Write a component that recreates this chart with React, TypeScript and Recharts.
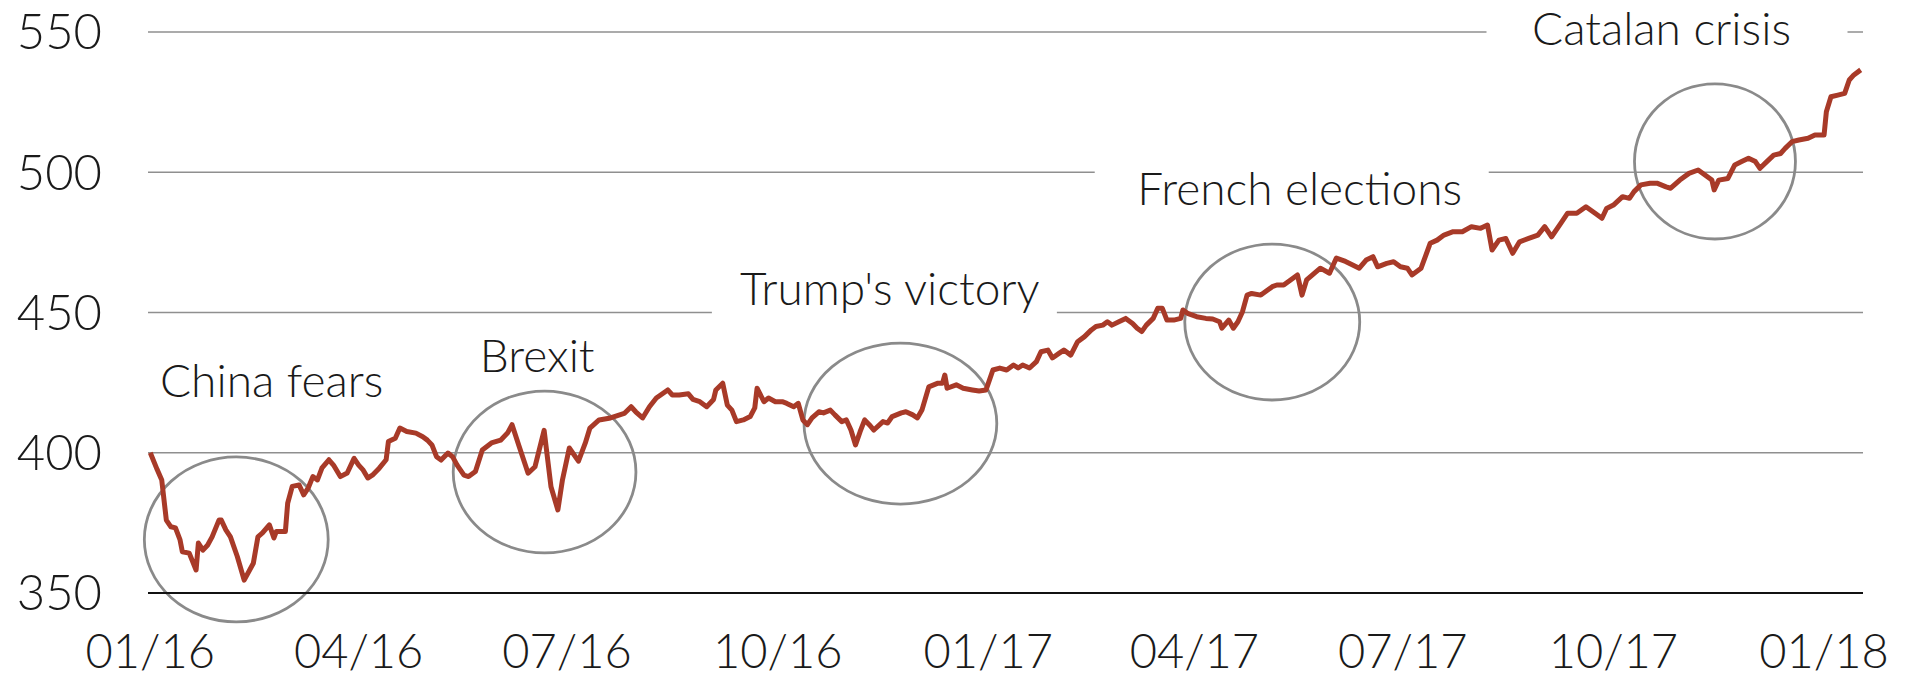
import React from 'react';
import { LineChart, Line, XAxis, YAxis, CartesianGrid, ReferenceArea, ReferenceDot } from 'recharts';

// Days since 01/01/2016
const days = [
  0, 3, 5, 7, 9, 11, 13, 14, 17, 20, 21, 23, 25, 27, 30, 31, 33, 35, 38, 41, 45, 47, 49, 52, 54, 55, 59, 60, 62, 65,
  67, 69, 71, 73, 75, 78, 80, 83, 86, 89, 91, 93, 95, 97, 100, 103, 104, 107, 109, 112, 116, 119, 121, 123, 125, 127,
  130, 132, 134, 137, 139, 142, 145, 149, 153, 156, 158, 161, 165, 168, 172, 175, 178, 180, 183, 187, 190, 192, 196,
  201, 207, 210, 212, 215, 218, 221, 226, 228, 231, 235, 237, 240, 243, 246, 247, 250, 252, 254, 256, 259, 262, 264,
  265, 268, 270, 273, 276, 278, 281, 283, 285, 287, 289, 292, 294, 297, 299, 302, 304, 306, 308, 310, 312, 314, 316,
  320, 322, 324, 328, 330, 333, 335, 337, 340, 344, 346, 347, 348, 352, 355, 359, 362, 365, 368, 371, 374, 377, 379,
  381, 384, 387, 389, 392, 394, 397, 399, 402, 405, 408, 411, 413, 416, 418, 420, 423, 426, 429, 431, 433, 435, 438,
  440, 442, 444, 447, 450, 451, 453, 457, 461, 464, 467, 468, 471, 473, 475, 477, 479, 481, 485, 488, 490, 492, 495,
  498, 501, 503, 505, 511, 515, 518, 522, 528, 531, 534, 536, 540, 543, 546, 549, 551, 555, 559, 562, 565, 569, 573,
  577, 581, 584, 586, 589, 592, 595, 598, 602, 606, 609, 612, 616, 619, 623, 627, 631, 634, 636, 639, 643, 646, 648,
  651, 655, 658, 662, 664, 668, 672, 676, 679, 682, 683, 685, 689, 692, 695, 698, 701, 703, 706, 709, 712, 714, 717,
  720, 724, 727, 731, 732, 734, 737, 740, 742, 744, 747,
];

const values = [
  400, 394, 390.3, 376, 373.6, 373.2, 368.9, 364.7, 364.2, 358.2, 367.8, 365.3, 367, 370, 376, 376, 372.5, 370, 363,
  354.6, 360.6, 370, 371.4, 374.3, 369.6, 371.9, 371.9, 382, 388, 388.5,
  385, 387.5, 391.5, 390.3, 394.6, 397.5, 395.6, 391.5, 392.8, 398, 395.6, 393.8, 391, 392, 394.5, 397.5, 404, 405.2,
  408.8, 407.6, 407, 405.7, 404.5, 402.8, 398.6, 397.4,
  399.9, 398.6, 395.6, 392, 391.5, 393.3, 401, 403.5, 404.5, 407, 410, 402.5, 392.7, 395, 408, 387.9, 379.6, 390.3,
  401.7, 397, 403.5, 408.8, 411.7,
  412.4, 414, 416.4, 414.6, 412.4, 416.4, 419.5, 422.4, 420.6, 420.6, 421, 419, 418.2, 416.4, 419, 422.4, 424.8, 417,
  415.2, 411.1, 411.7, 412.9, 416,
  423, 418.2, 419.5, 418.2, 418.2, 417.6, 416.4, 417.6, 411.7, 410, 412.4, 414.6, 414.2, 415.2, 413.5, 411.1, 411.7,
  408.1, 402.8, 407.5, 411.7, 410, 408.1,
  411.1, 410.6, 412.9, 414.2, 414.6, 413.5, 412.4, 415.2, 423.5, 424.8, 424.8, 427.7, 423, 424.2, 423, 422.4, 422,
  422.4, 429.5, 430.2, 429.5, 431.3, 430.2,
  431.3, 430.2, 432.5, 436, 436.6, 433.8, 435.5, 436.6, 434.8, 439.6, 441.4, 443.8, 445, 445.5, 446.7, 445.5, 446.7,
  447.9, 446.1, 444.4, 443.2, 445.5, 447.9,
  451.5, 451.5, 447.3, 447.3, 447.9, 450.9, 449.7, 448.5, 447.9, 447.7, 446.7, 444.4, 447.3, 444.4, 446.7, 450.3,
  456.2, 456.8, 456.2, 458, 459.2, 459.8, 459.8,
  461.6, 463.4, 456.2, 461.6, 465.8, 464, 469.4, 468.2, 465.8, 468.7, 469.9, 466.3, 467.5, 468.1, 466.3, 465.8, 463.4,
  465.8, 474.7, 475.8, 477.6, 478.8, 478.8,
  480.6, 480, 481.2, 472.3, 475.8, 476.4, 471.1, 475.2, 476.4, 477.6, 480.6, 477, 481.8, 485.4, 485.4, 487.7, 485.4,
  483.6, 487.1, 488.3, 491.3, 490.7, 493.1,
  495.5, 496.1, 496.1, 494.8, 494.3, 497.2, 499.6, 500.8, 499, 497.2, 493.7, 497.2, 497.8, 502.6, 503.8, 505, 503.8,
  501.4, 503.8, 506.1, 506.7, 508.5, 510.9,
  511.5, 512.1, 513.3, 513.3, 521.6, 526.9, 527.5, 528.1, 532.9, 534.7, 536.5,
];

const tickDays = [0, 91, 182, 274, 366, 456, 547, 639, 731];
const tickLabels = ['01/16', '04/16', '07/16', '10/16', '01/17', '04/17', '07/17', '10/17', '01/18'];
const yTicks = [350, 400, 450, 500, 550];

// Annotations (data units)
const eventNames = ['China fears', 'Brexit', "Trump's victory", 'French elections', 'Catalan crisis'];
const eventLabelDay = [53, 169, 323, 502, 660];
const eventLabelValue = [419.9, 428.8, 452.7, 488.3, 545.4];
const eventDayFrom = [-2.6, 132.3, 285.5, 451.8, 648.2];
const eventDayTo = [77.7, 212.1, 369.7, 528.2, 718.5];
const eventValueLow = [339.7, 364.3, 381.7, 418.8, 476.2];
const eventValueHigh = [398.5, 422.0, 439.1, 474.4, 531.5];

// label box paddings (px, styling)
const boxLeft = [125, 68, 178, 205, 175];
const boxRight = [125, 68, 167, 189, 186];

const data = days.map((d, i) => ({ day: d, value: values[i] }));

const FONT = 'Lato, "Open Sans", sans-serif';
const TEXT = '#1a1a1a';

export default function App() {
  return (
    <div style={{ width: 1912, height: 680, background: '#fff' }}>
      <style>{'body{margin:0;overflow:hidden;background:#fff}'}</style>
      <LineChart width={1912} height={680} data={data} margin={{ top: 32, right: 49, bottom: 0, left: 0 }}>
        <CartesianGrid vertical={false} stroke="#8f8f8f" strokeWidth={1.5} />
        <XAxis
          dataKey="day"
          type="number"
          domain={[-1, 748]}
          allowDataOverflow
          ticks={tickDays}
          interval={0}
          tickFormatter={(v: number) => tickLabels[tickDays.indexOf(v)]}
          height={87}
          tickSize={0}
          tickMargin={42}
          tickLine={false}
          axisLine={{ stroke: '#111', strokeWidth: 2 }}
          tick={{ fill: TEXT, fontSize: 47, fontFamily: FONT, fontWeight: 300 }}
        />
        <YAxis
          type="number"
          domain={[350, 550]}
          ticks={yTicks}
          interval={0}
          width={148}
          axisLine={false}
          tickLine={false}
          tickSize={0}
          tickMargin={46}
          tick={{ fill: TEXT, fontSize: 49, fontFamily: FONT, fontWeight: 300 }}
        />
        {eventNames.map((name, i) => (
          <ReferenceArea
            key={'e' + i}
            x1={eventDayFrom[i]}
            x2={eventDayTo[i]}
            y1={eventValueLow[i]}
            y2={eventValueHigh[i]}
            ifOverflow="visible"
            shape={(p: any) => (
              <ellipse
                cx={p.x + p.width / 2}
                cy={p.y + p.height / 2}
                rx={Math.abs(p.width) / 2}
                ry={Math.abs(p.height) / 2}
                fill="none"
                stroke="#8a8a8a"
                strokeWidth={2.8}
              />
            )}
          />
        ))}
        {eventNames.map((name, i) => (
          <ReferenceDot
            key={'l' + i}
            x={eventLabelDay[i]}
            y={eventLabelValue[i]}
            ifOverflow="visible"
            shape={(p: any) => (
              <g>
                <rect
                  x={p.cx - boxLeft[i]}
                  y={p.cy - 44}
                  width={boxLeft[i] + boxRight[i]}
                  height={56}
                  fill="#fff"
                />
                <text
                  x={p.cx}
                  y={p.cy}
                  textAnchor="middle"
                  fontSize={46}
                  fontFamily={FONT}
                  fontWeight={300}
                  fill={TEXT}
                >
                  {name}
                </text>
              </g>
            )}
          />
        ))}
        <Line
          type="linear"
          dataKey="value"
          stroke="#a83a28"
          strokeWidth={5}
          strokeLinejoin="round"
          dot={false}
          activeDot={false}
          isAnimationActive={false}
        />
      </LineChart>
    </div>
  );
}
